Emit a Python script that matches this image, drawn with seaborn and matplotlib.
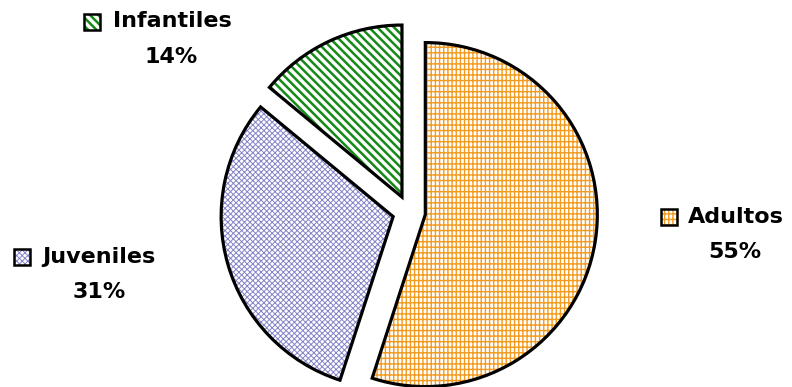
import matplotlib
matplotlib.use("Agg")
import matplotlib.pyplot as plt
import seaborn as sns
from matplotlib.patches import Rectangle

sns.set_theme(style="white")
plt.rcParams["font.family"] = ["DejaVu Sans"]

categories = ["Adultos", "Juveniles", "Infantiles"]
values = [55, 31, 14]
pct_labels = ["55%", "31%", "14%"]

hatch_colors = ["#F29B1F", "#8484C8", "#168A16"]
hatches = ["+++|", "xxxxxx", "\\\\\\\\"]
hatch_lw = [1.0, 0.7, 1.8]

W, H = 792, 387
CX, CY, R = 409, 212, 172


def X(px):
    return (px - CX) / R


def Y(py):
    return (CY - py) / R


fig = plt.figure(figsize=(W / 100, H / 100), dpi=100)
ax = fig.add_axes([0, 0, 1, 1])

explode = [0.096] * 3
# hatch layer
wedges, _ = ax.pie(values, startangle=90, counterclock=False, explode=explode,
                   radius=1.0, colors=["white"] * 3)
for w, hc, h, lw in zip(wedges, hatch_colors, hatches, hatch_lw):
    w.set_edgecolor(hc)
    w.set_linewidth(0)
    w.set_hatch(h)
    if hasattr(w, "set_hatch_linewidth"):
        w.set_hatch_linewidth(lw)
# outline layer
wedges2, _ = ax.pie(values, startangle=90, counterclock=False, explode=explode,
                    radius=1.0, wedgeprops=dict(facecolor="none", edgecolor="black",
                                                linewidth=2.3, joinstyle="miter"))

ax.set_xlim(X(0), X(W))
ax.set_ylim(Y(H), Y(0))
ax.set_aspect("auto")
ax.axis("off")

# label positions (pixel coords): marker box, name center, pct center
label_pos = {
    "Infantiles": dict(box=(84, 14), name=(172, 21), pct=(171, 57)),
    "Juveniles": dict(box=(14, 249), name=(99, 257), pct=(99, 292)),
    "Adultos": dict(box=(661, 209), name=(736, 217), pct=(735, 252)),
}
S = 16
for cat, pct, hc, h, lw in zip(categories, pct_labels, hatch_colors, hatches, hatch_lw):
    p = label_pos[cat]
    bx, by = p["box"]
    r1 = Rectangle((X(bx), Y(by + S)), S / R, S / R, facecolor="white",
                   edgecolor=hc, linewidth=0, hatch=h)
    if hasattr(r1, "set_hatch_linewidth"):
        r1.set_hatch_linewidth(lw)
    ax.add_patch(r1)
    ax.add_patch(Rectangle((X(bx), Y(by + S)), S / R, S / R, facecolor="none",
                           edgecolor="black", linewidth=1.8))
    nx, ny = p["name"]
    ax.text(X(nx), Y(ny), cat, ha="center", va="center", fontsize=16,
            fontweight="bold", color="black")
    qx, qy = p["pct"]
    ax.text(X(qx), Y(qy), pct, ha="center", va="center", fontsize=16,
            fontweight="bold", color="black")

fig.savefig("out.png", dpi=100)
